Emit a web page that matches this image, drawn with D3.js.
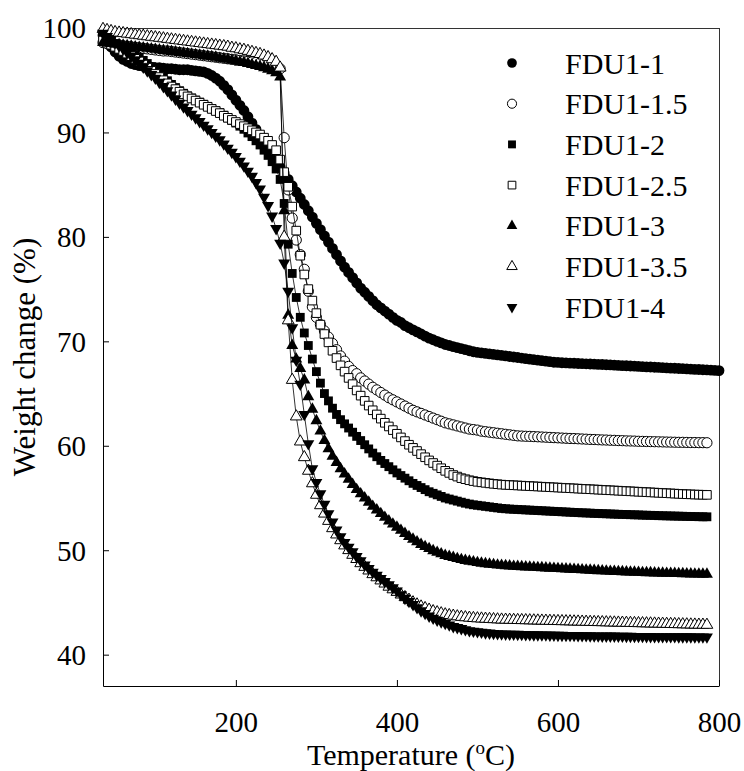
<!DOCTYPE html>
<html>
<head>
<meta charset="utf-8">
<script src="https://cdn.jsdelivr.net/npm/d3@7"></script>
<style>
  body { margin: 0; background: #fff; }
  svg { display: block; }
</style>
</head>
<body>
<div id="chart"></div>
<script>
// temperature of every reading (oC)
var temps = [
  35,40,45,50,55,60,65,70,75,80,
  85,90,95,100,105,110,115,120,125,130,
  135,140,145,150,155,160,165,170,175,180,
  185,190,195,200,205,210,215,220,225,230,
  235,240,245,250,255,260,265,270,275,280,
  285,290,295,300,305,310,315,320,325,330,
  335,340,345,350,355,360,365,370,375,380,
  385,390,395,400,405,410,415,420,425,430,
  435,440,445,450,455,460,465,470,475,480,
  485,490,495,500,505,510,515,520,525,530,
  535,540,545,550,555,560,565,570,575,580,
  585,590,595,600,605,610,615,620,625,630,
  635,640,645,650,655,660,665,670,675,680,
  685,690,695,700,705,710,715,720,725,730,
  735,740,745,750,755,760,765,770,775,780,
  785,790,795,800];

// weight change (%)
var FDU1_1 = [
  99.3,98.8,98.2,97.7,97.3,97.0,96.8,96.6,96.5,96.4,
  96.35,96.3,96.25,96.2,96.2,96.15,96.1,96.1,96.05,96.0,
  96.0,96.0,95.95,95.9,95.85,95.8,95.65,95.45,95.2,94.9,
  94.5,94.1,93.6,93.1,92.6,92.1,91.5,90.9,90.3,89.7,
  89.1,88.5,87.9,87.3,86.7,86.1,85.5,84.9,84.3,83.7,
  83.1,82.5,81.9,81.3,80.7,80.1,79.5,78.9,78.3,77.7,
  77.1,76.6,76.1,75.6,75.1,74.7,74.3,73.9,73.5,73.2,
  72.9,72.6,72.3,72.0,71.8,71.5,71.3,71.1,70.9,70.7,
  70.5,70.3,70.15,70.0,69.85,69.7,69.6,69.5,69.4,69.3,
  69.2,69.1,69.0,68.95,68.9,68.85,68.8,68.75,68.7,68.65,
  68.6,68.55,68.5,68.45,68.4,68.35,68.3,68.25,68.2,68.15,
  68.1,68.05,68.0,67.98,67.95,67.94,67.92,67.9,67.88,67.86,
  67.85,67.83,67.81,67.8,67.78,67.76,67.74,67.72,67.7,67.68,
  67.66,67.64,67.62,67.6,67.58,67.56,67.54,67.52,67.5,67.48,
  67.46,67.44,67.42,67.4,67.38,67.36,67.34,67.32,67.3,67.28,
  67.26,67.24,67.22,67.2];

var FDU1_1_5 = [
  98.6,98.5,98.45,98.4,98.35,98.3,98.25,98.2,98.15,98.1,
  98.05,98.0,97.95,97.9,97.85,97.8,97.8,97.75,97.7,97.65,
  97.6,97.55,97.5,97.45,97.4,97.35,97.3,97.25,97.2,97.15,
  97.1,97.05,97.0,96.95,96.9,96.85,96.8,96.75,96.7,96.65,
  96.6,96.5,96.4,96.3,96.1,89.5,84.5,81.8,79.7,78.3,
  76.9,74.8,73.3,72.3,71.6,71.0,70.4,69.8,69.2,68.6,
  68.1,67.6,67.2,66.9,66.5,66.2,65.9,65.6,65.35,65.1,
  64.85,64.6,64.4,64.2,64.0,63.8,63.6,63.4,63.25,63.1,
  62.95,62.8,62.65,62.5,62.35,62.2,62.1,62.0,61.9,61.8,
  61.7,61.6,61.55,61.5,61.4,61.35,61.3,61.25,61.2,61.15,
  61.1,61.05,61.0,60.95,60.93,60.91,60.9,60.88,60.86,60.84,
  60.82,60.8,60.78,60.76,60.74,60.72,60.7,60.69,60.67,60.65,
  60.63,60.61,60.6,60.58,60.56,60.55,60.53,60.52,60.5,60.49,
  60.47,60.46,60.45,60.43,60.42,60.41,60.4,60.39,60.38,60.37,
  60.36,60.35,60.34,60.33,60.33,60.32,60.31,60.31,60.3,60.3,
  60.29];

var FDU1_2 = [
  99.1,98.9,98.7,98.5,98.3,98.1,97.9,97.7,97.45,97.2,
  96.9,96.6,96.3,96.0,95.65,95.3,94.95,94.6,94.3,94.0,
  93.75,93.5,93.3,93.1,92.9,92.7,92.5,92.3,92.1,91.9,
  91.65,91.4,91.15,90.9,90.6,90.3,89.95,89.6,89.2,88.8,
  88.3,87.8,87.2,86.5,85.5,83.2,79.3,76.5,74.2,72.3,
  70.8,69.6,68.3,67.1,66.0,65.0,64.3,63.6,63.0,62.5,
  62.1,61.7,61.3,60.9,60.5,60.1,59.7,59.3,58.95,58.6,
  58.3,58.0,57.7,57.4,57.15,56.9,56.65,56.4,56.2,56.0,
  55.8,55.6,55.45,55.3,55.15,55.0,54.9,54.8,54.7,54.6,
  54.5,54.42,54.35,54.3,54.25,54.2,54.15,54.1,54.05,54.0,
  53.97,53.94,53.92,53.9,53.88,53.86,53.84,53.82,53.8,53.78,
  53.76,53.74,53.72,53.7,53.68,53.66,53.64,53.62,53.6,53.58,
  53.57,53.55,53.53,53.52,53.5,53.49,53.47,53.46,53.44,53.43,
  53.42,53.4,53.39,53.38,53.36,53.35,53.34,53.33,53.31,53.3,
  53.29,53.28,53.27,53.26,53.25,53.24,53.23,53.22,53.21,53.2,
  53.2];

var FDU1_2_5 = [
  98.8,98.6,98.4,98.2,98.0,97.8,97.55,97.3,97.05,96.8,
  96.5,96.2,95.9,95.6,95.3,95.0,94.7,94.4,94.15,93.9,
  93.65,93.45,93.25,93.05,92.85,92.65,92.45,92.25,92.05,91.85,
  91.6,91.4,91.2,91.0,90.8,90.6,90.4,90.2,90.0,89.8,
  89.5,89.2,88.8,88.3,87.4,86.2,84.8,82.9,80.6,78.2,
  76.4,75.0,73.9,72.7,71.6,70.7,69.9,69.1,68.4,67.7,
  67.1,66.5,65.9,65.3,64.8,64.3,63.85,63.4,63.0,62.6,
  62.2,61.85,61.5,61.15,60.8,60.45,60.1,59.8,59.5,59.2,
  58.9,58.6,58.35,58.1,57.85,57.6,57.4,57.2,57.05,56.9,
  56.8,56.7,56.62,56.55,56.5,56.45,56.4,56.36,56.32,56.28,
  56.26,56.24,56.22,56.2,56.18,56.16,56.14,56.12,56.1,56.08,
  56.06,56.04,56.02,56.0,55.98,55.96,55.94,55.92,55.9,55.88,
  55.86,55.84,55.82,55.8,55.78,55.76,55.74,55.72,55.7,55.68,
  55.66,55.64,55.62,55.6,55.58,55.56,55.54,55.52,55.5,55.48,
  55.46,55.44,55.42,55.4,55.38,55.36,55.35,55.33,55.32,55.31,
  55.3];

var FDU1_3 = [
  98.6,98.55,98.5,98.45,98.4,98.35,98.3,98.25,98.2,98.15,
  98.1,98.05,98.0,97.95,97.9,97.85,97.8,97.75,97.7,97.65,
  97.6,97.55,97.5,97.45,97.4,97.35,97.3,97.25,97.2,97.1,
  97.05,97.0,96.9,96.85,96.75,96.7,96.6,96.5,96.4,96.3,
  96.2,96.05,95.9,95.7,95.3,82.5,72.5,69.6,68.3,67.4,
  66.3,64.7,63.5,62.4,61.4,60.5,59.7,59.0,58.4,57.8,
  57.3,56.8,56.3,55.8,55.4,55.0,54.6,54.2,53.85,53.5,
  53.15,52.8,52.5,52.2,51.9,51.6,51.3,51.05,50.8,50.55,
  50.35,50.15,49.95,49.8,49.65,49.5,49.4,49.3,49.2,49.1,
  49.02,48.95,48.88,48.82,48.76,48.71,48.66,48.62,48.58,48.55,
  48.52,48.49,48.46,48.44,48.42,48.4,48.38,48.36,48.34,48.32,
  48.3,48.28,48.26,48.24,48.22,48.2,48.18,48.16,48.14,48.12,
  48.1,48.08,48.06,48.04,48.02,48.0,47.98,47.97,47.95,47.94,
  47.92,47.91,47.89,47.88,47.86,47.85,47.84,47.82,47.81,47.8,
  47.79,47.78,47.77,47.76,47.75,47.74,47.73,47.72,47.71,47.7,
  47.7];

var FDU1_3_5 = [
  99.9,99.8,99.7,99.6,99.55,99.5,99.45,99.4,99.35,99.3,
  99.25,99.2,99.15,99.1,99.05,99.0,98.95,98.9,98.85,98.8,
  98.75,98.7,98.65,98.6,98.55,98.5,98.45,98.4,98.35,98.3,
  98.25,98.2,98.1,98.05,97.95,97.9,97.8,97.7,97.6,97.5,
  97.35,97.2,97.0,96.75,96.2,80.0,72.0,66.3,62.8,60.4,
  58.9,57.6,56.4,55.3,54.3,53.5,52.8,52.1,51.5,50.95,
  50.45,50.0,49.55,49.15,48.75,48.4,48.05,47.7,47.4,47.1,
  46.8,46.5,46.25,46.0,45.75,45.5,45.25,45.0,44.8,44.6,
  44.45,44.3,44.15,44.05,43.95,43.85,43.78,43.72,43.66,43.61,
  43.57,43.53,43.5,43.47,43.45,43.43,43.41,43.39,43.37,43.35,
  43.34,43.33,43.32,43.31,43.3,43.29,43.28,43.27,43.26,43.25,
  43.24,43.23,43.22,43.21,43.2,43.19,43.18,43.17,43.16,43.15,
  43.14,43.13,43.12,43.11,43.1,43.09,43.08,43.07,43.06,43.05,
  43.04,43.03,43.02,43.01,43.0,42.99,42.98,42.97,42.96,42.95,
  42.94,42.93,42.92,42.91,42.9,42.89,42.88,42.87,42.86,42.86,
  42.85];

var FDU1_4 = [
  99.5,99.2,98.9,98.6,98.3,98.0,97.65,97.3,96.95,96.6,
  96.25,95.9,95.55,95.2,94.8,94.4,94.0,93.6,93.2,92.8,
  92.45,92.1,91.75,91.4,91.05,90.7,90.35,90.0,89.65,89.3,
  88.9,88.5,88.1,87.7,87.25,86.8,86.3,85.8,85.2,84.6,
  83.8,83.0,82.0,80.8,79.4,77.5,74.8,71.3,68.2,65.9,
  63.0,60.2,57.8,56.5,55.4,54.4,53.5,52.7,51.95,51.3,
  50.75,50.3,49.85,49.4,49.0,48.6,48.25,47.9,47.6,47.3,
  47.0,46.7,46.4,46.1,45.75,45.4,45.1,44.8,44.5,44.2,
  43.95,43.7,43.5,43.3,43.15,43.0,42.85,42.7,42.6,42.5,
  42.4,42.3,42.25,42.2,42.15,42.1,42.07,42.04,42.01,41.99,
  41.98,41.97,41.96,41.95,41.94,41.93,41.92,41.91,41.9,41.89,
  41.89,41.88,41.87,41.86,41.86,41.85,41.84,41.84,41.83,41.82,
  41.82,41.81,41.8,41.8,41.79,41.79,41.78,41.78,41.77,41.77,
  41.76,41.76,41.75,41.75,41.75,41.74,41.74,41.73,41.73,41.73,
  41.72,41.72,41.72,41.71,41.71,41.71,41.71,41.7,41.7,41.7,
  41.7];

var seriesNames = ["FDU1-1", "FDU1-1.5", "FDU1-2", "FDU1-2.5", "FDU1-3", "FDU1-3.5", "FDU1-4"];
var seriesValues = [FDU1_1, FDU1_1_5, FDU1_2, FDU1_2_5, FDU1_3, FDU1_3_5, FDU1_4];
var xTicks = [200, 400, 600, 800];
var yTicks = [40, 50, 60, 70, 80, 90, 100];

// marker look for each series (same order as the names)
var markers = [
  {type: d3.symbolCircle, size: 92, fill: "#000", flip: false},
  {type: d3.symbolCircle, size: 82, fill: "#fff", flip: false},
  {type: d3.symbolSquare, size: 78, fill: "#000", flip: false},
  {type: d3.symbolSquare, size: 74, fill: "#fff", flip: false},
  {type: d3.symbolTriangle, size: 62, fill: "#000", flip: false},
  {type: d3.symbolTriangle, size: 60, fill: "#fff", flip: false},
  {type: d3.symbolTriangle, size: 62, fill: "#000", flip: true}
];

var Width = 744, Height = 771;
var margin = {top: 28, right: 25, bottom: 85, left: 103};
var innerW = Width - margin.left - margin.right;
var innerH = Height - margin.top - margin.bottom;
var fontFam = "'Liberation Serif', 'Times New Roman', serif";

var svg = d3.select("#chart").append("svg")
  .attr("width", Width)
  .attr("height", Height)
  .style("font-family", fontFam);

var g = svg.append("g")
  .attr("transform", "translate(" + margin.left + "," + margin.top + ")");

var x = d3.scaleLinear().domain([35, 800]).range([0, innerW]);
var y = d3.scaleLinear().domain([37, 100]).range([innerH, 0]);

// frame on top and right
g.append("line").attr("x1", 0).attr("x2", innerW).attr("y1", 0.5).attr("y2", 0.5)
  .attr("stroke", "#333").attr("stroke-width", 1);
g.append("line").attr("x1", innerW + 0.5).attr("x2", innerW + 0.5).attr("y1", 0).attr("y2", innerH)
  .attr("stroke", "#333").attr("stroke-width", 1);

// bottom axis, ticks pointing inwards
var xAxis = g.append("g")
  .attr("transform", "translate(0," + innerH + ")")
  .call(d3.axisBottom(x).tickValues(xTicks).tickSizeInner(-6).tickSizeOuter(0).tickFormat(d3.format("d")));
xAxis.selectAll("text")
  .attr("y", 45.5).attr("dy", 0)
  .style("font-size", "29px").style("font-family", fontFam).attr("fill", "#000");

// left axis
var yAxis = g.append("g")
  .call(d3.axisLeft(y).tickValues(yTicks).tickSizeInner(-6).tickSizeOuter(0).tickPadding(17).tickFormat(d3.format("d")));
yAxis.selectAll("text")
  .attr("dy", "0.34em")
  .style("font-size", "29px").style("font-family", fontFam).attr("fill", "#000");
g.selectAll(".domain, .tick line").attr("stroke", "#000");

// series: thin connecting line, then the markers
var line = d3.line()
  .defined(function(d) { return d[1] != null; })
  .x(function(d) { return x(d[0]); })
  .y(function(d) { return y(d[1]); });

seriesValues.forEach(function(vals, i) {
  var pts = temps.map(function(t, k) { return [t, vals[k] == null ? null : vals[k]]; });
  var m = markers[i];
  var sg = g.append("g").attr("class", "series s" + i);
  sg.append("path")
    .datum(pts)
    .attr("d", line)
    .attr("fill", "none")
    .attr("stroke", "#000")
    .attr("stroke-width", 0.8);
  sg.selectAll("path.mark")
    .data(pts.filter(function(d) { return d[1] != null; }))
    .enter()
    .append("path")
    .attr("class", "mark")
    .attr("d", d3.symbol().type(m.type).size(m.size))
    .attr("transform", function(d) {
      return "translate(" + x(d[0]) + "," + y(d[1]) + ")" + (m.flip ? " rotate(180)" : "");
    })
    .attr("fill", m.fill)
    .attr("stroke", "#000")
    .attr("stroke-width", m.fill == "#fff" ? 1 : 0);
});

// legend
var legend = svg.append("g").attr("class", "legend");
seriesNames.forEach(function(name, i) {
  var cy = 63 + i * 40.7;
  var m = markers[i];
  legend.append("path")
    .attr("d", d3.symbol().type(m.type).size(m.size * 0.8))
    .attr("transform", "translate(512," + cy + ")" + (m.flip ? " rotate(180)" : ""))
    .attr("fill", m.fill)
    .attr("stroke", "#000")
    .attr("stroke-width", m.fill == "#fff" ? 1 : 0);
  legend.append("text")
    .attr("x", 565)
    .attr("y", cy)
    .attr("dy", "0.35em")
    .style("font-size", "30px")
    .text(name);
});

// axis titles
var xt = svg.append("text")
  .attr("x", margin.left + innerW / 2)
  .attr("y", 765)
  .attr("text-anchor", "middle")
  .style("font-size", "30px");
xt.append("tspan").text("Temperature (");
xt.append("tspan").attr("dy", -11).style("font-size", "19px").text("o");
xt.append("tspan").attr("dy", 11).text("C)");

svg.append("text")
  .attr("transform", "rotate(-90)")
  .attr("x", -(margin.top + innerH / 2))
  .attr("y", 35)
  .attr("text-anchor", "middle")
  .style("font-size", "31px")
  .text("Weight change (%)");
</script>
</body>
</html>
